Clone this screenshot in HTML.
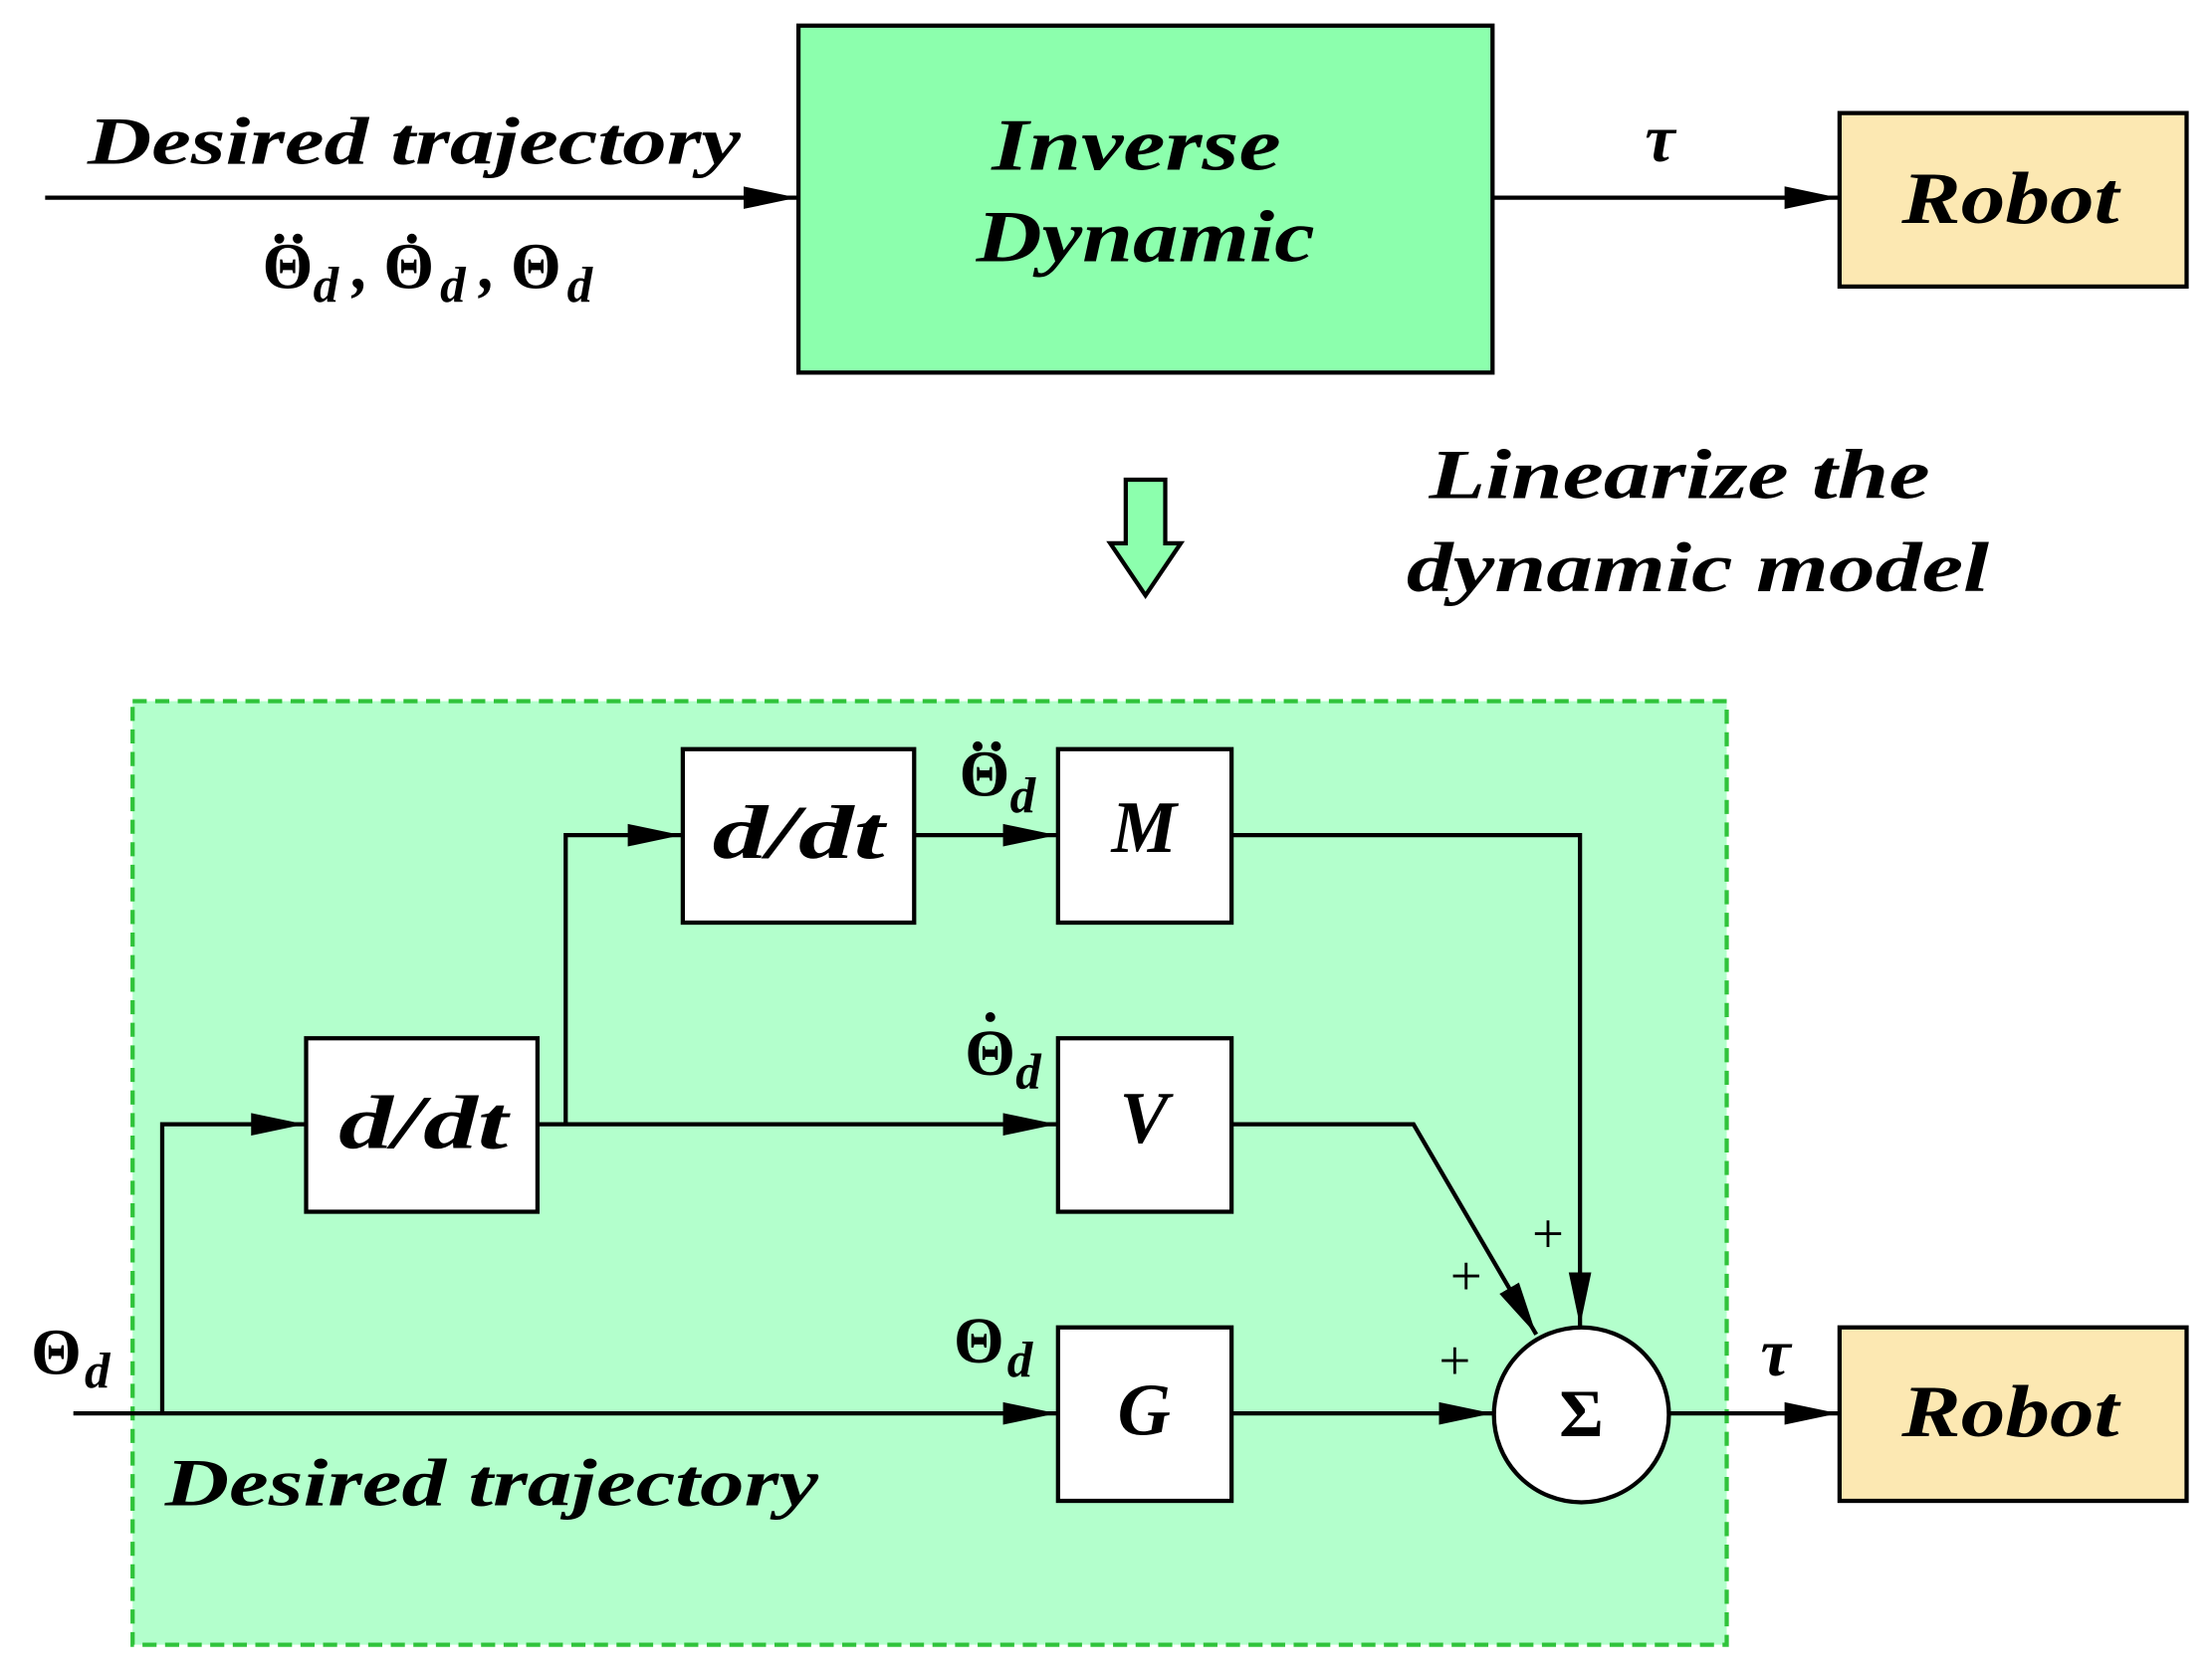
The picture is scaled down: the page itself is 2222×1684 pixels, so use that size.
<!DOCTYPE html>
<html><head><meta charset="utf-8"><style>
html,body{margin:0;padding:0;background:#fff;}
svg{display:block;}
text{font-family:"Liberation Serif","DejaVu Serif",serif;font-weight:bold;font-style:italic;fill:#000;}
.up{font-style:normal;}
.pl{font-style:normal;font-weight:normal;}
</style></head><body>
<svg width="2222" height="1684" viewBox="0 0 1568 1188" xmlns="http://www.w3.org/2000/svg">
<defs>
<marker id="a" markerWidth="40" markerHeight="20" refX="38" refY="10" orient="auto" markerUnits="userSpaceOnUse">
<path d="M0,2 L38,10 L0,18 Z" fill="#000"/></marker>
</defs>
<!-- top -->
<line x1="32" y1="140" x2="565" y2="140" stroke="#000" stroke-width="3" marker-end="url(#a)"/>
<text x="62" y="116" font-size="48" textLength="463" lengthAdjust="spacingAndGlyphs">Desired trajectory</text>
<g font-size="46">
<text class="up" x="186" y="204">Θ</text><circle cx="198" cy="169" r="3.5"/><circle cx="211" cy="169" r="3.5"/>
<text x="222" y="214" font-size="36">d</text><text x="250" y="204">,</text>
<text class="up" x="272" y="204">Θ</text><circle cx="292" cy="169" r="3.5"/>
<text x="312" y="214" font-size="36">d</text><text x="340" y="204">,</text>
<text class="up" x="362" y="204">Θ</text>
<text x="402" y="214" font-size="36">d</text>
</g>
<rect x="566" y="18" width="492" height="246" fill="#8CFFAD" stroke="#000" stroke-width="3"/>
<text x="703" y="120" font-size="52" textLength="205" lengthAdjust="spacingAndGlyphs">Inverse</text>
<text x="692" y="185" font-size="52" textLength="240" lengthAdjust="spacingAndGlyphs">Dynamic</text>
<line x1="1058" y1="140" x2="1303" y2="140" stroke="#000" stroke-width="3" marker-end="url(#a)"/>
<text x="1166" y="114" font-size="48">τ</text>
<rect x="1304" y="80" width="246" height="123" fill="#FCE8B2" stroke="#000" stroke-width="3"/>
<text x="1348" y="158" font-size="52" textLength="154" lengthAdjust="spacingAndGlyphs">Robot</text>
<!-- down arrow -->
<path d="M798,340 L826,340 L826,385 L837,385 L812,422 L787,385 L798,385 Z" fill="#8CFFAD" stroke="#000" stroke-width="3"/>
<text x="1013" y="353" font-size="50" textLength="355" lengthAdjust="spacingAndGlyphs">Linearize the</text>
<text x="997" y="419" font-size="50" textLength="413" lengthAdjust="spacingAndGlyphs">dynamic model</text>
<!-- bottom -->
<rect x="94" y="497" width="1130" height="669" fill="#B3FFCC" stroke="#2FC33A" stroke-width="3" stroke-dasharray="10,6"/>
<g stroke="#000" stroke-width="3" fill="none">
<line x1="52" y1="1002" x2="749" y2="1002" marker-end="url(#a)"/>
<polyline points="115,1002 115,797 216,797" marker-end="url(#a)"/>
<line x1="381" y1="797" x2="749" y2="797" marker-end="url(#a)"/>
<polyline points="401,797 401,592 483,592" marker-end="url(#a)"/>
<line x1="648" y1="592" x2="749" y2="592" marker-end="url(#a)"/>
<polyline points="873,592 1120,592 1120,940" marker-end="url(#a)"/>
<polyline points="873,797 1002,797 1089,946" marker-end="url(#a)"/>
<line x1="873" y1="1002" x2="1058" y2="1002" marker-end="url(#a)"/>
<line x1="1183" y1="1002" x2="1303" y2="1002" marker-end="url(#a)"/>
</g>
<g fill="#fff" stroke="#000" stroke-width="3">
<rect x="484" y="531" width="164" height="123"/>
<rect x="750" y="531" width="123" height="123"/>
<rect x="217" y="736" width="164" height="123"/>
<rect x="750" y="736" width="123" height="123"/>
<rect x="750" y="941" width="123" height="123"/>
<circle cx="1121" cy="1003" r="62"/>
</g>
<rect x="1304" y="941" width="246" height="123" fill="#FCE8B2" stroke="#000" stroke-width="3"/>
<text x="505" y="608" font-size="54" textLength="122" lengthAdjust="spacingAndGlyphs">d/dt</text>
<text x="240" y="814" font-size="54" textLength="120" lengthAdjust="spacingAndGlyphs">d/dt</text>
<text x="811" y="604" font-size="52" text-anchor="middle">M</text>
<text x="811" y="810" font-size="52" text-anchor="middle">V</text>
<text x="811" y="1017" font-size="52" text-anchor="middle">G</text>
<text class="up" x="1121" y="1018" font-size="48" text-anchor="middle">Σ</text>
<text x="1348" y="1018" font-size="52" textLength="154" lengthAdjust="spacingAndGlyphs">Robot</text>
<text x="1248" y="975" font-size="48">τ</text>
<g font-size="46">
<text class="up" x="680" y="564">Θ</text><circle cx="693" cy="529" r="3.5"/><circle cx="706" cy="529" r="3.5"/>
<text x="716" y="576" font-size="36">d</text>
<text class="up" x="684" y="762">Θ</text><circle cx="702" cy="721" r="3.5"/>
<text x="720" y="772" font-size="36">d</text>
<text class="up" x="676" y="966">Θ</text>
<text x="714" y="976" font-size="36">d</text>
<text class="up" x="22" y="974">Θ</text>
<text x="60" y="984" font-size="36">d</text>
</g>
<text class="pl" x="1086" y="888" font-size="40">+</text>
<text class="pl" x="1028" y="918" font-size="40">+</text>
<text class="pl" x="1020" y="978" font-size="40">+</text>
<text x="117" y="1067" font-size="48" textLength="463" lengthAdjust="spacingAndGlyphs">Desired trajectory</text>
</svg>
</body></html>
